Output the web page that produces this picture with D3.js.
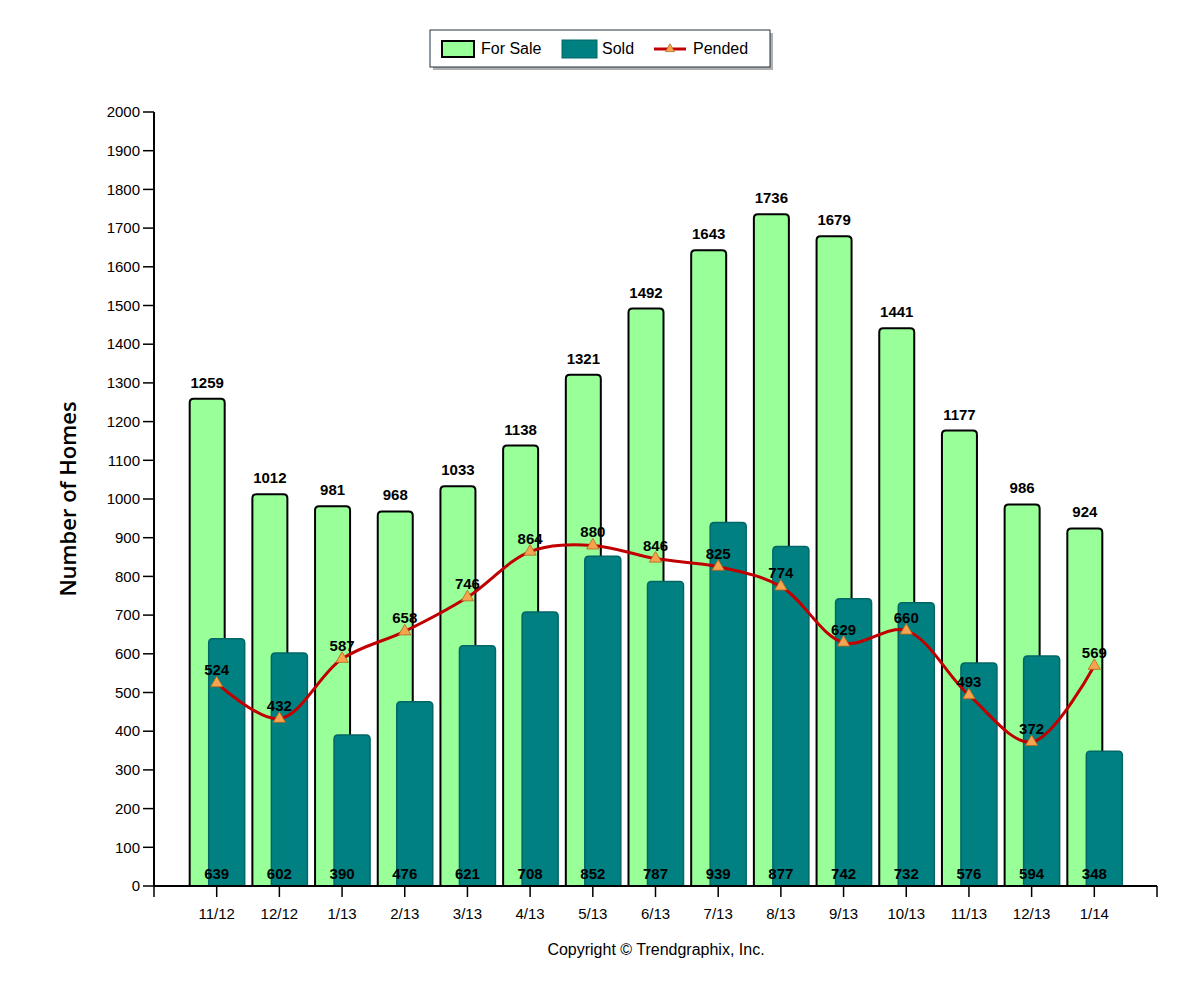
<!DOCTYPE html>
<html lang="en">
<head>
  <meta charset="UTF-8">
  <title>Homes chart</title>
  <script src="https://d3js.org/d3.v7.min.js"></script>
  <style>
    body { margin: 0; background: #fff; }
    text { font-family: "Liberation Sans", Arial, sans-serif; }
    .val { font-weight: bold; font-size: 15px; fill: #000; }
    .tickText { font-size: 15px; fill: #000; }
  </style>
</head>
<body>
  <div id="chart"></div>
  <script>
    const months = ["11/12","12/12","1/13","2/13","3/13","4/13","5/13","6/13","7/13","8/13","9/13","10/13","11/13","12/13","1/14"]
    const forSale = [1259,1012,981,968,1033,1138,1321,1492,1643,1736,1679,1441,1177,986,924]
    const sold = [639,602,390,476,621,708,852,787,939,877,742,732,576,594,348]
    const pended = [524,432,587,658,746,864,880,846,825,774,629,660,493,372,569]
    const yTicks = d3.range(0, 2001, 100)

    const width = 1200, height = 1000
    const plotLeft = 154, plotRight = 1157, plotTop = 112, plotBottom = 886

    const svg = d3.select("#chart").append("svg")
      .attr("width", width)
      .attr("height", height)

    // slots 0..16, categories sit on 1..15
    const x = d3.scaleLinear().domain([0, months.length + 1]).range([plotLeft, plotRight])
    const y = d3.scaleLinear().domain([0, 2000]).range([plotBottom, plotTop])

    const barW = 35
    function roundTop(x0, w, y0, y1, r) {
      r = Math.min(r, (y1 - y0))
      return `M${x0},${y1} L${x0},${y0 + r} Q${x0},${y0} ${x0 + r},${y0} L${x0 + w - r},${y0} Q${x0 + w},${y0} ${x0 + w},${y0 + r} L${x0 + w},${y1} Z`
    }

    // For Sale bars
    svg.append("g").selectAll("path")
      .data(forSale)
      .join("path")
        .attr("d", (d, i) => roundTop(x(i + 1) - 27, barW, y(d), y(0), 4))
        .attr("fill", "#99ff99")
        .attr("stroke", "#000")
        .attr("stroke-width", 2)

    // Sold bars
    svg.append("g").selectAll("path")
      .data(sold)
      .join("path")
        .attr("d", (d, i) => roundTop(x(i + 1) - 8, barW + 1, y(d), y(0), 4))
        .attr("fill", "#008080")
        .attr("stroke", "#006666")
        .attr("stroke-width", 1.5)

    // y axis
    const yAxis = svg.append("g")
    yAxis.append("line")
      .attr("x1", plotLeft).attr("x2", plotLeft)
      .attr("y1", plotTop).attr("y2", plotBottom)
      .attr("stroke", "#000").attr("stroke-width", 2)
    yAxis.selectAll(".yt")
      .data(yTicks)
      .join("line")
        .attr("x1", plotLeft - 11).attr("x2", plotLeft)
        .attr("y1", d => y(d)).attr("y2", d => y(d))
        .attr("stroke", "#000").attr("stroke-width", 1.5)
    yAxis.selectAll(".ytl")
      .data(yTicks)
      .join("text")
        .attr("class", "tickText")
        .attr("x", plotLeft - 14)
        .attr("y", d => y(d))
        .attr("dy", "0.35em")
        .attr("text-anchor", "end")
        .text(d => d)

    // x axis
    svg.append("line")
      .attr("x1", plotLeft).attr("x2", plotRight)
      .attr("y1", plotBottom).attr("y2", plotBottom)
      .attr("stroke", "#000").attr("stroke-width", 2)
    svg.selectAll(".xt")
      .data(d3.range(0, months.length + 2))
      .join("line")
        .attr("x1", d => x(d)).attr("x2", d => x(d))
        .attr("y1", plotBottom).attr("y2", plotBottom + 11)
        .attr("stroke", "#000").attr("stroke-width", 1.5)
    svg.selectAll(".xtl")
      .data(months)
      .join("text")
        .attr("class", "tickText")
        .attr("x", (d, i) => x(i + 1))
        .attr("y", plotBottom + 33)
        .attr("text-anchor", "middle")
        .text(d => d)

    // For Sale value labels
    svg.append("g").selectAll("text")
      .data(forSale)
      .join("text")
        .attr("class", "val")
        .attr("x", (d, i) => x(i + 1) - 9.5)
        .attr("y", d => y(d) - 11)
        .attr("text-anchor", "middle")
        .text(d => d)

    // Pended line
    const line = d3.line()
      .x((d, i) => x(i + 1))
      .y(d => y(d))
      .curve(d3.curveCatmullRom.alpha(0.5))
    svg.append("path")
      .datum(pended)
      .attr("d", line)
      .attr("fill", "none")
      .attr("stroke", "#c00000")
      .attr("stroke-width", 3)

    const tri = d3.symbol().type(d3.symbolTriangle).size(65)
    svg.append("g").selectAll("path")
      .data(pended)
      .join("path")
        .attr("d", tri)
        .attr("transform", (d, i) => `translate(${x(i + 1)},${y(d)})`)
        .attr("fill", "#f5a44f")
        .attr("stroke", "#b8651a")
        .attr("stroke-width", 0.8)

    svg.append("g").selectAll("text")
      .data(pended)
      .join("text")
        .attr("class", "val")
        .attr("x", (d, i) => x(i + 1))
        .attr("y", d => y(d) - 8)
        .attr("text-anchor", "middle")
        .text(d => d)

    // Sold value labels, sitting at the base
    svg.append("g").selectAll("text")
      .data(sold)
      .join("text")
        .attr("class", "val")
        .attr("x", (d, i) => x(i + 1))
        .attr("y", plotBottom - 7)
        .attr("text-anchor", "middle")
        .text(d => d)

    // y label
    svg.append("text")
      .attr("transform", "translate(76,499) rotate(-90)")
      .attr("text-anchor", "middle")
      .style("font-family", "'Open Sans', sans-serif")
      .style("font-weight", 600)
      .style("font-size", "22px")
      .text("Number of Homes")

    svg.append("text")
      .attr("x", 656)
      .attr("y", 955)
      .attr("text-anchor", "middle")
      .style("font-size", "16px")
      .text("Copyright © Trendgraphix, Inc.")

    // legend
    const lg = svg.append("g").attr("transform", "translate(430,30)")
    lg.append("rect")
      .attr("x", 3).attr("y", 3).attr("width", 340).attr("height", 37)
      .attr("fill", "#b0b0b0")
    lg.append("rect")
      .attr("width", 340).attr("height", 37)
      .attr("fill", "#fff").attr("stroke", "#203040").attr("stroke-width", 1)
    lg.append("rect")
      .attr("x", 12).attr("y", 11).attr("width", 32).attr("height", 16)
      .attr("fill", "#99ff99").attr("stroke", "#000").attr("stroke-width", 2)
    lg.append("text").attr("x", 51).attr("y", 24).style("font-size", "16px").text("For Sale")
    lg.append("rect")
      .attr("x", 132).attr("y", 10).attr("width", 35).attr("height", 18)
      .attr("fill", "#008080").attr("stroke", "#006666").attr("stroke-width", 1)
    lg.append("text").attr("x", 172).attr("y", 24).style("font-size", "16px").text("Sold")
    lg.append("line")
      .attr("x1", 224).attr("x2", 256).attr("y1", 19).attr("y2", 19)
      .attr("stroke", "#c00000").attr("stroke-width", 3)
    lg.append("path")
      .attr("d", d3.symbol().type(d3.symbolTriangle).size(35))
      .attr("transform", "translate(240,19)")
      .attr("fill", "#f5a44f").attr("stroke", "#b8651a").attr("stroke-width", 0.8)
    lg.append("text").attr("x", 263).attr("y", 24).style("font-size", "16px").text("Pended")
  </script>
</body>
</html>
